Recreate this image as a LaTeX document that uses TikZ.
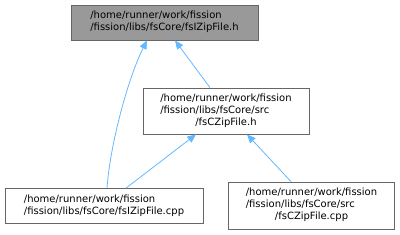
\documentclass[tikz,border=0pt]{standalone}
\usepackage{xcolor}
\usepackage{fontspec}
\usepackage{tikz}
\usetikzlibrary{arrows.meta, positioning, calc}
\newfontfamily\dejavu{DejaVu Sans}
\definecolor{filegray}{HTML}{999999}
\definecolor{bordergray}{HTML}{666666}
\definecolor{depblue}{HTML}{63B8FF}
\tikzset{
  file/.style={draw=bordergray, line width=0.6pt, fill=#1, inner sep=0pt,
               font=\dejavu\fontsize{7.5}{9}\selectfont, align=left},
  file/.default=white,
  dep/.style={{Triangle[length=6.5pt, width=5.5pt]}-, line width=0.6pt, color=depblue},
}
\newcommand{\lastline}[1]{\multicolumn{1}{@{}c@{}}{#1}}

\begin{document}
\begin{tikzpicture}[x=0.75pt, y=-0.75pt]
  \useasboundingbox (0,0) rectangle (400,235);
  \node[file=filegray, minimum width=187*0.75pt, minimum height=35*0.75pt] (zh) at (164.5,22.5)
    {\begin{tabular}{@{}l@{}}/home/runner/work/fission\\/fission/libs/fsCore/fsIZipFile.h\end{tabular}};
  \node[file, minimum width=166*0.75pt, minimum height=46*0.75pt] (ch) at (226,111)
    {\begin{tabular}{@{}l@{}}/home/runner/work/fission\\/fission/libs/fsCore/src\\\lastline{/fsCZipFile.h}\end{tabular}};
  \node[file, minimum width=198*0.75pt, minimum height=35*0.75pt] (zcpp) at (104,206)
    {\begin{tabular}{@{}l@{}}/home/runner/work/fission\\/fission/libs/fsCore/fsIZipFile.cpp\end{tabular}};
  \node[file, minimum width=166*0.75pt, minimum height=47*0.75pt] (ccpp) at (311.5,205.5)
    {\begin{tabular}{@{}l@{}}/home/runner/work/fission\\/fission/libs/fsCore/src\\\lastline{/fsCZipFile.cpp}\end{tabular}};
  % include edges, arrow at the included file
  \draw[dep] ($(zh.south)+(-17.5,0)$) .. controls (128,78) and (110,145) .. ($(zcpp.north)+(3,0)$);
  \draw[dep] ($(zh.south)+(10.5,0)$) -- ($(ch.north)+(-16,0)$);
  \draw[dep] ($(ch.south)+(-30,0)$) -- ($(zcpp.north)+(22,0)$);
  \draw[dep] ($(ch.south)+(21,0)$) -- ($(ccpp.north)+(-20.5,0)$);
\end{tikzpicture}
\end{document}
